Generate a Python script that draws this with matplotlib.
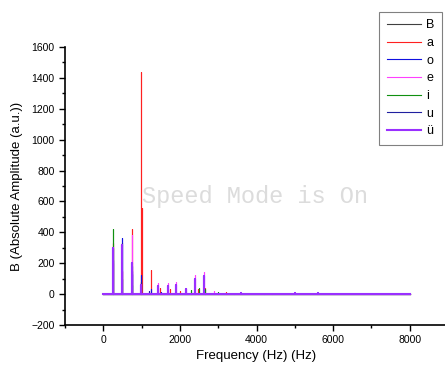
import matplotlib
matplotlib.use("Agg")
import matplotlib.pyplot as plt
from matplotlib.ticker import MultipleLocator

plt.rcParams['font.family'] = ['Liberation Sans', 'DejaVu Sans']

labels = ["B", "a", "o", "e", "i", "u", "ü"]
colors = ["#404040", "#ff2020", "#1010e0", "#ff40ff", "#109010", "#2020a0", "#9a30ff"]

# peak frequencies (Hz) and amplitudes (a.u.) per series
B_f = [120, 600, 1500, 3000, 4500, 6000]
B_a = [4, 5, 3, 2, 2, 1]
a_f = [245, 490, 743, 990, 1000, 1243, 1490, 1740, 2000, 2480, 2650, 3200, 4400, 5400]
a_a = [330, 150, 424, 1435, 560, 154, 40, 30, 20, 30, 40, 12, 8, 6]
o_f = [30, 245, 480, 743, 760, 990, 1240, 1500, 2300]
o_a = [8, 220, 366, 150, 130, 126, 30, 15, 8]
e_f = [245, 490, 743, 990, 1440, 1680, 1910, 2150, 2390, 2630, 2880, 3300]
e_a = [200, 150, 380, 80, 70, 70, 80, 40, 122, 141, 20, 10]
i_f = [245, 490, 743, 990, 2300, 2500, 2650, 3000, 3400, 4200]
i_a = [424, 100, 60, 60, 25, 40, 30, 12, 10, 6]
u_f = [245, 490, 743, 990, 1200, 2400]
u_a = [300, 330, 180, 80, 20, 10]
ü_f = [245, 480, 743, 990, 1440, 1680, 1910, 2150, 2390, 2630, 3600, 5000, 5600]
ü_a = [300, 315, 200, 60, 50, 50, 60, 30, 100, 120, 10, 6, 6]
f_start, f_end = 0, 8000

series = [(B_f, B_a), (a_f, a_a), (o_f, o_a), (e_f, e_a), (i_f, i_a), (u_f, u_a), (ü_f, ü_a)]

fig = plt.figure(figsize=(4.45, 3.69), dpi=100)
ax = fig.add_axes([65 / 445, 44 / 369, 383 / 445, 278 / 369])

for (fs, amps), lab, col in zip(series, labels, colors):
    xs = [f_start]
    ys = [0]
    for f, a in zip(fs, amps):
        xs += [f, f, f]
        ys += [0, a, 0]
    xs.append(f_end)
    ys.append(0)
    lw = 1.5 if lab == "ü" else 0.8
    ax.plot(xs, ys, color=col, lw=lw, label=lab)

ax.set_xlim(-1000, 9000)
ax.set_ylim(-200, 1600)
ax.xaxis.set_major_locator(MultipleLocator(2000))
ax.xaxis.set_minor_locator(MultipleLocator(1000))
ax.yaxis.set_major_locator(MultipleLocator(200))
ax.yaxis.set_minor_locator(MultipleLocator(100))
for s in ["top", "right"]:
    ax.spines[s].set_visible(False)
for s in ["left", "bottom"]:
    ax.spines[s].set_linewidth(1.2)
ax.tick_params(which="major", direction="out", length=4, width=1, labelsize=7.5)
ax.tick_params(which="minor", direction="out", length=2.5, width=1)
ax.set_xlabel("Frequency (Hz) (Hz)", fontsize=9.5, labelpad=3)
ax.set_ylabel("B (Absolute Amplitude (a.u.))", fontsize=9.5, labelpad=6)

ax.text(0.5 * (142 + 369) / 445, 1 - 197 / 369, "Speed Mode is On", transform=fig.transFigure,
        ha="center", va="center", fontsize=17, color="#dcdcdc",
        family=["Liberation Mono", "DejaVu Sans Mono"], zorder=0)

leg = ax.legend(loc="upper right", bbox_to_anchor=(442 / 445, 1 - 12 / 369),
                bbox_transform=fig.transFigure, borderaxespad=0, fancybox=False,
                fontsize=9, handlelength=2.7, labelspacing=0.45, handletextpad=0.45,
                borderpad=0.6, framealpha=1)
leg.get_frame().set_edgecolor("#808080")
leg.get_frame().set_linewidth(0.8)

fig.savefig("out.png", dpi=100)
